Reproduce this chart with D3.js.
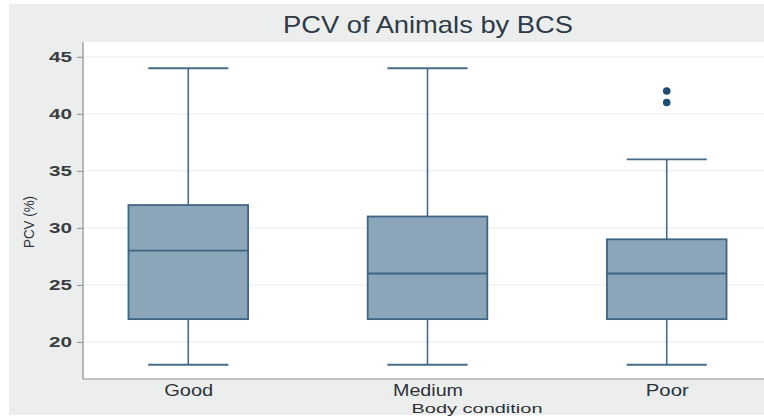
<!DOCTYPE html>
<html><head><meta charset="utf-8">
<script src="https://cdn.jsdelivr.net/npm/d3@7"></script>
<style>body{margin:0;background:#fff}svg{display:block}</style>
</head><body>
<svg id="c" width="764" height="416"></svg>
<script>
const categories = ["Good", "Medium", "Poor"];
const q1 = [22, 22, 22];
const median = [28, 26, 26];
const q3 = [32, 31, 29];
const whiskerLow = [18, 18, 18];
const whiskerHigh = [44, 44, 36];
const outliers = [[], [], [41, 42]];
const yTicks = [20, 25, 30, 35, 40, 45];

const FONT = "Liberation Sans, Arial, sans-serif";
const svg = d3.select("#c");
const W = 764, H = 416;
const plot = {left: 83, right: 772, top: 42, bottom: 379};

svg.append("rect").attr("x", 9).attr("y", 4).attr("width", W - 9).attr("height", 411).attr("fill", "#eceeee");
svg.append("rect").attr("x", plot.left).attr("y", plot.top).attr("width", plot.right - plot.left).attr("height", plot.bottom - plot.top).attr("fill", "#ffffff");

const y = d3.scaleLinear().domain([16.75, 46.3]).range([plot.bottom, plot.top]);
const x = d3.scalePoint().domain(categories).range([plot.left, plot.right]).padding(0.44);
const step = x.step();
const boxW = step * 0.5, capW = step * 0.335;

// gridlines
svg.append("g").selectAll("line").data(yTicks).join("line")
  .attr("x1", plot.left).attr("x2", plot.right)
  .attr("y1", d => y(d)).attr("y2", d => y(d))
  .attr("stroke", "#eef0f0").attr("stroke-width", 1.2);

// y axis
const yAxis = svg.append("g").attr("transform", `translate(${plot.left},0)`)
  .call(d3.axisLeft(y).tickValues(yTicks).tickSize(6).tickPadding(5));
yAxis.select(".domain").attr("stroke", "#8a8f93").attr("stroke-width", 1.2).attr("d", `M0,${plot.top}V${plot.bottom}`);
yAxis.selectAll(".tick line").attr("stroke", "#8a8f93");
yAxis.selectAll(".tick text").attr("fill", "#3a3d40").attr("font-family", FONT).attr("font-size", 15)
  .attr("font-weight", "bold").attr("textLength", 23).attr("lengthAdjust", "spacingAndGlyphs");

// x axis
const xLen = {Good: 49, Medium: 70, Poor: 43};
const xAxis = svg.append("g").attr("transform", `translate(0,${plot.bottom})`)
  .call(d3.axisBottom(x).tickSize(0).tickPadding(6));
xAxis.select(".domain").attr("stroke", "#8a8f93").attr("stroke-width", 1.2).attr("d", `M${plot.left},0H${W}`);
xAxis.selectAll(".tick text").attr("fill", "#2e3236").attr("font-family", FONT).attr("font-size", 16)
  .attr("textLength", d => xLen[d]).attr("lengthAdjust", "spacingAndGlyphs");

const stroke = "#466b89", fill = "#8ba6b9";
const g = svg.append("g");
categories.forEach((c, i) => {
  const cx = x(c);
  g.append("line").attr("x1", cx).attr("x2", cx).attr("y1", y(q3[i])).attr("y2", y(whiskerHigh[i])).attr("stroke", stroke).attr("stroke-width", 1.6);
  g.append("line").attr("x1", cx).attr("x2", cx).attr("y1", y(q1[i])).attr("y2", y(whiskerLow[i])).attr("stroke", stroke).attr("stroke-width", 1.6);
  g.append("line").attr("x1", cx - capW / 2).attr("x2", cx + capW / 2).attr("y1", y(whiskerHigh[i])).attr("y2", y(whiskerHigh[i])).attr("stroke", stroke).attr("stroke-width", 1.8);
  g.append("line").attr("x1", cx - capW / 2).attr("x2", cx + capW / 2).attr("y1", y(whiskerLow[i])).attr("y2", y(whiskerLow[i])).attr("stroke", stroke).attr("stroke-width", 1.8);
  g.append("rect").attr("x", cx - boxW / 2).attr("width", boxW)
    .attr("y", y(q3[i])).attr("height", y(q1[i]) - y(q3[i]))
    .attr("fill", fill).attr("stroke", "#3f6584").attr("stroke-width", 1.8);
  g.append("line").attr("x1", cx - boxW / 2).attr("x2", cx + boxW / 2).attr("y1", y(median[i])).attr("y2", y(median[i])).attr("stroke", "#3f6584").attr("stroke-width", 1.8);
  outliers[i].forEach(v => {
    g.append("circle").attr("cx", cx).attr("cy", y(v)).attr("r", 3.8).attr("fill", "#1f4a72");
  });
});

// title
svg.append("text").attr("x", 428).attr("y", 33).attr("text-anchor", "middle")
  .attr("font-family", FONT).attr("font-size", 24).attr("fill", "#2e3a46")
  .attr("textLength", 290).attr("lengthAdjust", "spacingAndGlyphs")
  .text("PCV of Animals by BCS");
// y label
svg.append("text").attr("transform", "translate(34,222) rotate(-90)").attr("text-anchor", "middle")
  .attr("font-family", FONT).attr("font-size", 14).attr("fill", "#2e3236")
  .attr("textLength", 52).attr("lengthAdjust", "spacingAndGlyphs")
  .text("PCV (%)");
// x label
svg.append("text").attr("x", 477).attr("y", 413).attr("text-anchor", "middle")
  .attr("font-family", FONT).attr("font-size", 13).attr("fill", "#2e3236")
  .attr("textLength", 131).attr("lengthAdjust", "spacingAndGlyphs")
  .text("Body condition");
</script>
</body></html>
